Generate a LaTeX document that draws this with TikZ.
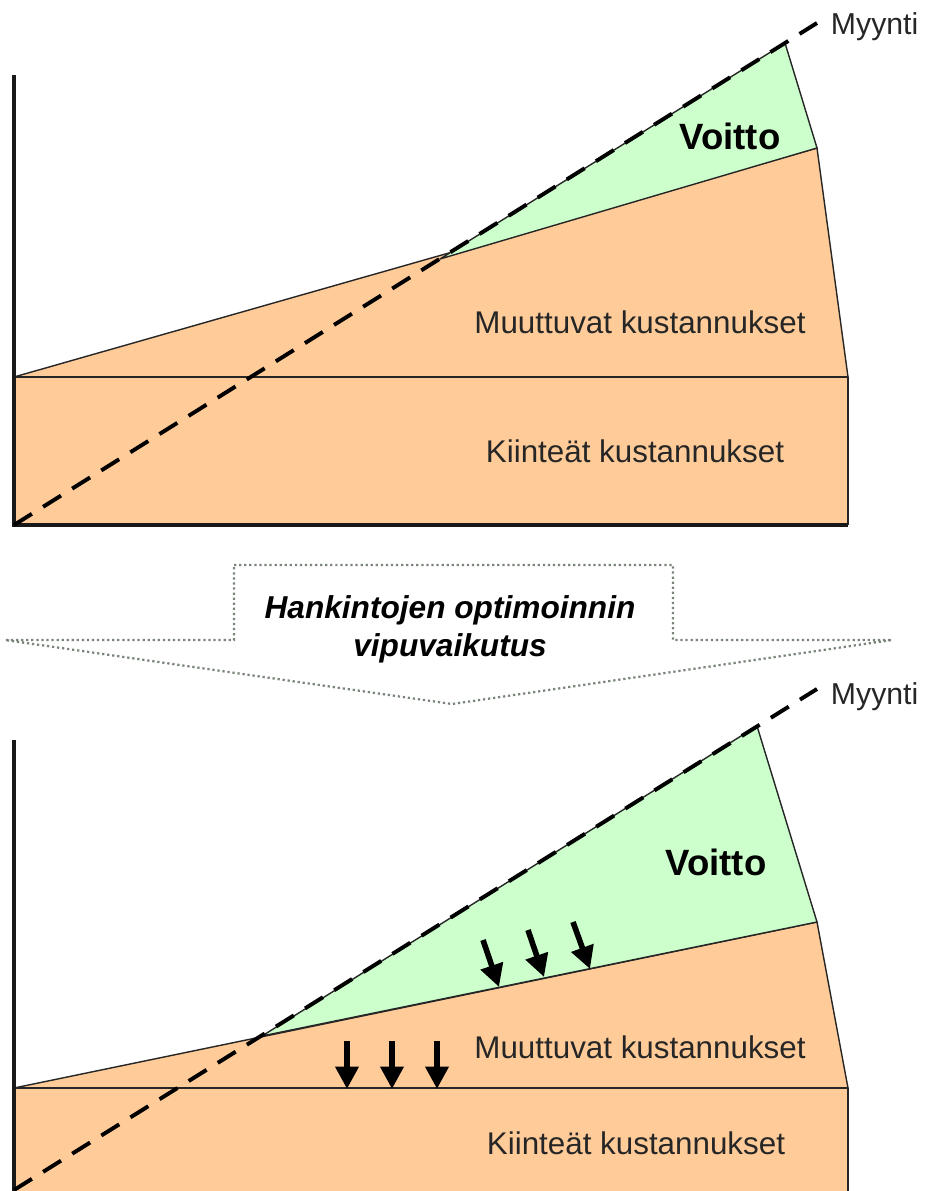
\documentclass[tikz,border=0pt]{standalone}
\usepackage{fontspec}
\setmainfont{Liberation Sans}
\usetikzlibrary{arrows.meta, positioning, calc}
\definecolor{costorange}{HTML}{FFCC99}
\definecolor{profitgreen}{HTML}{CCFFCC}
\definecolor{dotgray}{HTML}{7A857A}

\begin{document}
\begin{tikzpicture}[
  x=0.025cm, y=-0.025cm,
  area/.style = {draw=black!85, line width=1pt, line join=round},
  axis/.style = {draw=black!90, line width=2.2pt},
  sales/.style = {line width=2.8pt, dash pattern=on 15pt off 9.4pt},
  lever/.style = {draw=dotgray, line width=1.6pt, dotted, fill=white},
  push/.style = {line width=4pt, -{Triangle[length=16pt, width=16pt]}},
  label/.style = {font=\fontsize{22.3}{26}\selectfont, text=black!85},
  salesname/.style = {font=\fontsize{21.5}{25}\selectfont, text=black!85, anchor=west},
  profit/.style = {font=\fontsize{26}{30}\selectfont\bfseries}
]
  \useasboundingbox (0,0) rectangle (927,1191);

  % Top panel
  \coordinate (t-origin) at (14,525);
  \coordinate (t-axtop) at (14,75);
  \coordinate (t-axend) at (848,525);
  \coordinate (t-fixtop) at (14,377);
  \coordinate (t-fixright) at (848,377);
  \coordinate (t-costtop) at (817,148);
  \coordinate (t-break) at (440,259);
  \coordinate (t-salestop) at (785,43);
  \coordinate (t-salesend) at (817,23);

  \fill[costorange] (t-origin) rectangle (t-fixright);
  \draw[area, fill=costorange] (t-fixtop) -- (t-costtop) -- (t-fixright) -- cycle;
  \draw[area, fill=profitgreen] (t-break) -- (t-salestop) -- (t-costtop) -- cycle;
  \draw[area] (t-fixtop) -- (t-fixright) -- (t-axend);
  \draw[axis] (t-axtop) -- (t-origin) -- (t-axend);
  \draw[sales] (t-origin) -- (t-salesend);

  \node[salesname] (t-myynti) at (826,27) {Myynti};
  \node[profit] (t-voitto) at (730,136) {Voitto};
  \node[label] (t-muuttuvat) at (640,322) {Muuttuvat kustannukset};
  \node[label] (t-kiinteat) at (635,451) {Kiinteät kustannukset};

  % Lever arrow
  \draw[lever] (234,565) -- (673,565) -- (673,640) -- (892,640) -- (452,704)
    -- (5,640) -- (234,640) -- cycle;
  \node[font=\fontsize{22.5}{27}\selectfont\bfseries\itshape, align=center] (lever)
    at (450,629) {Hankintojen optimoinnin\\vipuvaikutus};

  % Bottom panel
  \coordinate (b-origin) at (14,1200);
  \coordinate (b-axtop) at (14,740);
  \coordinate (b-salesstart) at (14,1190);
  \coordinate (b-fixtop) at (14,1088);
  \coordinate (b-fixright) at (848,1088);
  \coordinate (b-fixbottom) at (848,1200);
  \coordinate (b-costtop) at (817,922);
  \coordinate (b-break) at (262,1036);
  \coordinate (b-salestop) at (757,726);
  \coordinate (b-salesend) at (817,689);

  \fill[costorange] (b-origin) rectangle (b-fixright);
  \draw[area, fill=costorange] (b-fixtop) -- (b-costtop) -- (b-fixright) -- cycle;
  \draw[area, fill=profitgreen] (b-break) -- (b-salestop) -- (b-costtop) -- cycle;
  \draw[area] (b-fixtop) -- (b-fixright) -- (b-fixbottom);
  \draw[axis] (b-axtop) -- (b-origin);
  \draw[sales] (b-salesstart) -- (b-salesend);

  % Cost reduction arrows
  \foreach \tx/\ty/\hx/\hy [count=\i] in {483/940/499/987, 528/930/544/977, 573/922/590/969}
    \draw[push] (\tx,\ty) coordinate (g-tail-\i) -- (\hx,\hy) coordinate (g-tip-\i);
  \foreach \x [count=\i] in {347, 392, 437}
    \draw[push] (\x,1041) coordinate (o-tail-\i) -- (\x,1089) coordinate (o-tip-\i);

  \node[salesname] (b-myynti) at (826,697) {Myynti};
  \node[profit] (b-voitto) at (716,862) {Voitto};
  \node[label] (b-muuttuvat) at (640,1047) {Muuttuvat kustannukset};
  \node[label] (b-kiinteat) at (636,1143) {Kiinteät kustannukset};
\end{tikzpicture}
\end{document}
